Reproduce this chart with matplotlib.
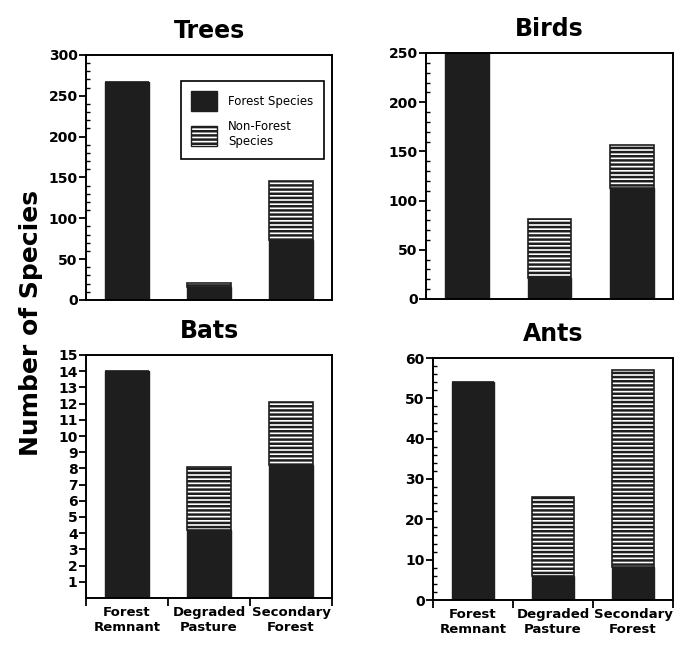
import matplotlib
matplotlib.use('Agg')
import matplotlib.pyplot as plt
import matplotlib.patches as mpatches
from matplotlib.ticker import MultipleLocator
import numpy as np

#---    Data
categories = ['Forest\nRemnant', 'Degraded\nPasture', 'Secondary\nForest']

trees_forest = [267, 16, 73]
trees_nonforest = [0, 5, 73]

birds_forest = [250, 21, 113]
birds_nonforest = [0, 60, 44]

bats_forest = [14, 4.2, 8.2]
bats_nonforest = [0, 3.9, 3.9]

ants_forest = [54, 6, 8.2]
ants_nonforest = [0, 19.6, 48.8]

dark = '#1e1e1e'
plt.rcParams['font.family'] = 'DejaVu Sans'
plt.rcParams['hatch.linewidth'] = 1.8
plt.rcParams['hatch.color'] = dark

fig = plt.figure(figsize=(6.84, 6.45), dpi=100)

# axes positions in pixels: left, bottom(from top), right, top(from top)
W, H = 684, 645
def add_ax(l, b, r, t):
    return fig.add_axes([l / W, 1 - b / H, (r - l) / W, (b - t) / H])

ax_trees = add_ax(86, 300, 332, 55)
ax_birds = add_ax(426, 299, 673, 53)
ax_bats = add_ax(86, 598, 332, 355)
ax_ants = add_ax(433, 600, 673, 358)

panels = [
    (ax_trees, 'Trees', trees_forest, trees_nonforest, 300, 50, 10),
    (ax_birds, 'Birds', birds_forest, birds_nonforest, 250, 50, 10),
    (ax_bats, 'Bats', bats_forest, bats_nonforest, 15, 1, None),
    (ax_ants, 'Ants', ants_forest, ants_nonforest, 60, 10, 2),
]

x = np.arange(len(categories)) + 0.5
width = 0.53

for ax, title, forest, nonforest, ymax, major, minor in panels:
    ax.bar(x, forest, width, color=dark, edgecolor=dark, linewidth=1)
    ax.bar(x, nonforest, width, bottom=forest, color='white',
           edgecolor=dark, hatch='----', linewidth=1.2)
    ax.set_xlim(0, 3)
    ax.set_ylim(0, ymax)
    ax.yaxis.set_major_locator(MultipleLocator(major))
    if minor:
        ax.yaxis.set_minor_locator(MultipleLocator(minor))
    ax.tick_params(axis='y', which='major', direction='out', length=5,
                   width=1.3, labelsize=10, pad=1)
    ax.tick_params(axis='y', which='minor', direction='in', length=3, width=1)
    for lab in ax.get_yticklabels():
        lab.set_fontweight('bold')
    for s in ax.spines.values():
        s.set_linewidth(1.4)
    ax.set_title(title, fontsize=17, fontweight='bold', pad=12)

# Bats starts its labels at 1
ax_bats.set_yticks(range(1, 16))

# top row: no x ticks
for ax in (ax_trees, ax_birds):
    ax.set_xticks([])

# bottom row: ticks on the boundaries, labels at the centres
for ax in (ax_bats, ax_ants):
    ax.set_xticks([0, 1, 2, 3])
    ax.set_xticklabels([])
    ax.set_xticks(x, minor=True)
    ax.set_xticklabels(categories, minor=True, fontsize=9.5, fontweight='bold')
    ax.tick_params(axis='x', which='major', direction='out', length=6, width=1.3)
    ax.tick_params(axis='x', which='minor', length=0, pad=6)

# legend in the Trees panel
h_forest = mpatches.Patch(facecolor=dark, edgecolor=dark)
h_non = mpatches.Patch(facecolor='white', edgecolor=dark, hatch='----')
leg = ax_trees.legend([h_forest, h_non], ['Forest Species', 'Non-Forest\nSpecies'],
                      loc='upper right', bbox_to_anchor=(0.99, 0.92),
                      fancybox=False, edgecolor='black', framealpha=1,
                      fontsize=8.5, handlelength=2.2, handleheight=2.2,
                      labelspacing=0.8, borderpad=0.9, handletextpad=0.9)
leg.get_frame().set_linewidth(1.2)

fig.text(0.045, 0.5, 'Number of Species', rotation=90, fontsize=18,
         fontweight='bold', ha='center', va='center')

plt.savefig('out.png', dpi=100)
